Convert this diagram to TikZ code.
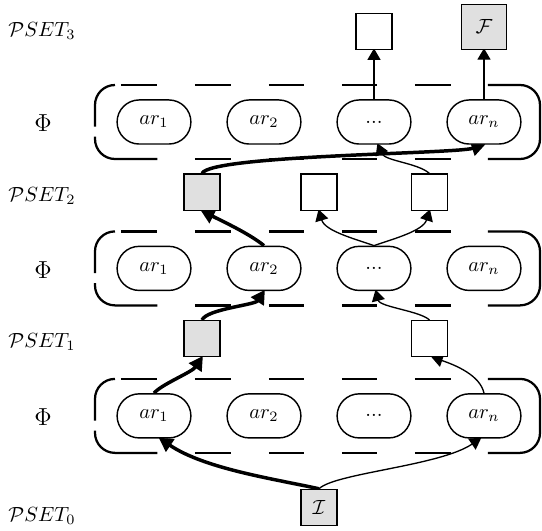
\documentclass[tikz,border=0pt]{standalone}
\usetikzlibrary{shapes.misc,arrows.meta,backgrounds}
\begin{document}
\begin{tikzpicture}[x=0.4878pt,y=0.4878pt,
  psbox/.style={draw, line width=0.65pt, fill=white, minimum size=17.6pt, inner sep=0pt},
  gbox/.style={psbox, fill=black!12},
  arbox/.style={rounded rectangle, draw, line width=0.7pt, fill=white, minimum width=36pt, minimum height=21.5pt, inner sep=0pt},
  philab/.style={font=\large},
  frameline/.style={line width=1.1pt, rounded corners=9.75pt},
  conn/.style={line width=0.65pt, -{Triangle[length=5.6pt,width=6.4pt]}, shorten >=-0.8pt},
  conbold/.style={line width=1.7pt, -{Triangle[length=6.8pt,width=7.2pt]}, shorten >=-0.8pt},
  pics/phiframe/.style={code={
    \draw[frameline] (115,37) -- (95,37) -- (95,-4.7);
    \draw[frameline] (95,-14.7) -- (95,-37) -- (157.5,-37);
    \draw[frameline] (488,37) -- (540,37) -- (540,-37) -- (488,-37);
    \foreach \xa/\xb in {121/157.5,195/231,269/304.5,342/377.5,415/451}
      \draw[line width=1.1pt] (\xa,37) -- (\xb,37);
    \foreach \xa/\xb in {195/231,269/304.5,342/377.5,415/451}
      \draw[line width=1.1pt] (\xa,-37) -- (\xb,-37);
  }}
]
\useasboundingbox (0,0) rectangle (542,531);

% level labels
\node (l3) at (42,500) {$\mathcal{P}SET_3$};
\node (l2) at (42,335) {$\mathcal{P}SET_2$};
\node (l1) at (42,189.3) {$\mathcal{P}SET_1$};
\node (l0) at (42,15) {$\mathcal{P}SET_0$};
\node[philab] (f1) at (43,407.5) {$\Phi$};
\node[philab] (f2) at (43,261) {$\Phi$};
\node[philab] (f3) at (43,113.5) {$\Phi$};

% boxes
\node[psbox] (s3a) at (374,499.6) {};
\node[gbox, minimum size=21.7pt] (s3f) at (484,504) {$\mathcal{F}$};
\node[gbox] (s2a) at (202,338.8) {};
\node[psbox] (s2b) at (319,338.8) {};
\node[psbox] (s2c) at (429.5,338.8) {};
\node[gbox] (s1a) at (202,192.3) {};
\node[psbox] (s1b) at (429.5,192.3) {};
\node[gbox] (s0) at (319,23.5) {$\mathcal{I}$};

% rule nodes
\foreach \r/\yy in {1/409,2/262.6,3/115.1}{
  \node[arbox] (ar1-\r) at (154,\yy) {$ar_1$};
  \node[arbox] (ar2-\r) at (264,\yy) {$ar_2$};
  \node[arbox] (dots-\r) at (374,\yy) {...};
  \node[arbox] (arn-\r) at (484,\yy) {$ar_n$};
}

\begin{scope}[on background layer]
  \pic at (0,409) {phiframe};
  \pic at (0,262.6) {phiframe};
  \pic at (0,115.1) {phiframe};

  \draw[conbold] (s0.north) .. controls (275,52) and (205,62) .. (ar1-3.-75);
  \draw[conn] (s0.north) .. controls (335,58) and (440,65) .. (arn-3.-100);
  \draw[conbold] (ar1-3.north) .. controls (162,147) and (192,158.7) .. (s1a.south);
  \draw[conn] (arn-3.north) .. controls (480,156) and (455,166) .. (s1b.-80);
  \draw[conbold] (s1a.north) .. controls (207,222) and (255,226) .. (ar2-2.south);
  \draw[conn] (s1b.north) .. controls (420,220) and (380,224) .. (dots-2.-85);
  \draw[conbold] (ar2-2.north) .. controls (250,297) and (222,310) .. (s2a.south);
  \draw[conn] (dots-2.north) .. controls (355,292) and (325,300) .. (s2b.south);
  \draw[conn] (dots-2.north) .. controls (393,292) and (423,300) .. (s2c.south);
  \draw[conbold] (s2a.north) .. controls (210,376) and (455,377) .. (arn-1.south);
  \draw[conn] (s2c.north) .. controls (418,368) and (385,370) .. (dots-1.-80);
  \draw[conn] (dots-1.north) -- (s3a.south);
  \draw[conn] (arn-1.north) -- (s3f.south);
\end{scope}
\end{tikzpicture}
\end{document}
